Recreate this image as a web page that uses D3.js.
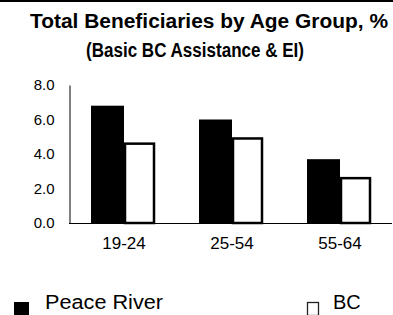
<!DOCTYPE html>
<html>
<head>
<meta charset="utf-8">
<script src="https://cdn.jsdelivr.net/npm/d3@7"></script>
<style>
  body { margin: 0; background: #fff; }
  text { font-family: "Liberation Sans", Arial, sans-serif; fill: #000; }
</style>
</head>
<body>
<svg id="chart"></svg>
<script>
'use strict';

// data
var categories = ['19-24', '25-54', '55-64'];
var seriesNames = ['Peace River', 'BC'];
var peaceRiver = [6.8, 6.0, 3.7];
var bc = [4.6, 4.9, 2.6];
var yTicks = [0, 2, 4, 6, 8];

var width = 393, height = 315;

var svg = d3.select('#chart')
  .attr('width', width)
  .attr('height', height);

// black rule at the very top
svg.append('rect')
  .attr('x', 0).attr('y', 0)
  .attr('width', width).attr('height', 2)
  .attr('fill', '#000');

// title
svg.append('text')
  .attr('x', 209).attr('y', 28)
  .attr('text-anchor', 'middle')
  .attr('font-size', 20).attr('font-weight', 'bold')
  .attr('textLength', 358).attr('lengthAdjust', 'spacingAndGlyphs')
  .text('Total Beneficiaries by Age Group, %');
svg.append('text')
  .attr('x', 195).attr('y', 57)
  .attr('text-anchor', 'middle')
  .attr('font-size', 20).attr('font-weight', 'bold')
  .attr('textLength', 218).attr('lengthAdjust', 'spacingAndGlyphs')
  .text('(Basic BC Assistance & EI)');

// scales
var y = d3.scaleLinear().domain([0, 8]).range([223, 85]);
var x0 = d3.scaleBand().domain(categories).range([70, 394]).padding(0);
var x1 = d3.scaleBand().domain(seriesNames).range([0, 64]).padding(0);

var rows = categories.map(function (c, i) {
  return { cat: c, values: [
    { name: seriesNames[0], v: peaceRiver[i] },
    { name: seriesNames[1], v: bc[i] }
  ] };
});

// y axis
var yAxis = svg.append('g')
  .attr('transform', 'translate(69.5,0)')
  .call(d3.axisLeft(y).tickValues(yTicks).tickFormat(d3.format('.1f'))
    .tickSize(0).tickPadding(15));
yAxis.select('.domain').attr('stroke', '#000').attr('stroke-width', 1);
yAxis.selectAll('text')
  .attr('font-size', 15)
  .attr('font-family', '"Liberation Sans", Arial, sans-serif')
  .attr('fill', '#000');

// bars
var groups = svg.append('g').selectAll('g')
  .data(rows)
  .join('g')
  .attr('transform', function (d) {
    return 'translate(' + (x0(d.cat) + x0.bandwidth() / 2 - 32) + ',0)';
  });

groups.selectAll('rect')
  .data(function (d) { return d.values; })
  .join('rect')
  .attr('x', function (d) { return d.name === 'BC' ? x1(d.name) + 1 : x1(d.name) - 1; })
  .attr('y', function (d) { return y(d.v); })
  .attr('width', function (d) { return d.name === 'BC' ? x1.bandwidth() - 3 : x1.bandwidth() + 1; })
  .attr('height', function (d) { return y(0) - y(d.v); })
  .attr('fill', function (d) { return d.name === 'BC' ? '#fff' : '#000'; })
  .attr('stroke', function (d) { return d.name === 'BC' ? '#000' : 'none'; })
  .attr('stroke-width', 2.5);

// x axis
var xAxis = svg.append('g')
  .attr('transform', 'translate(0,223)')
  .call(d3.axisBottom(x0).tickSize(0).tickPadding(14));
xAxis.select('.domain').attr('d', 'M69,0.5H392').attr('stroke', '#000').attr('stroke-width', 1);
xAxis.selectAll('text')
  .attr('font-size', 17)
  .attr('font-family', '"Liberation Sans", Arial, sans-serif')
  .attr('fill', '#000');

// legend
var legend = svg.append('g');
legend.append('rect')
  .attr('x', 14).attr('y', 302).attr('width', 15).attr('height', 15)
  .attr('fill', '#000');
legend.append('text')
  .attr('x', 45).attr('y', 309)
  .attr('font-size', 20)
  .attr('textLength', 118).attr('lengthAdjust', 'spacingAndGlyphs')
  .text(seriesNames[0]);
legend.append('rect')
  .attr('x', 307.5).attr('y', 302.5).attr('width', 11).attr('height', 13)
  .attr('fill', '#fff').attr('stroke', '#222').attr('stroke-width', 1.3);
legend.append('text')
  .attr('x', 333).attr('y', 309)
  .attr('font-size', 20)
  .text(seriesNames[1]);
</script>
</body>
</html>
